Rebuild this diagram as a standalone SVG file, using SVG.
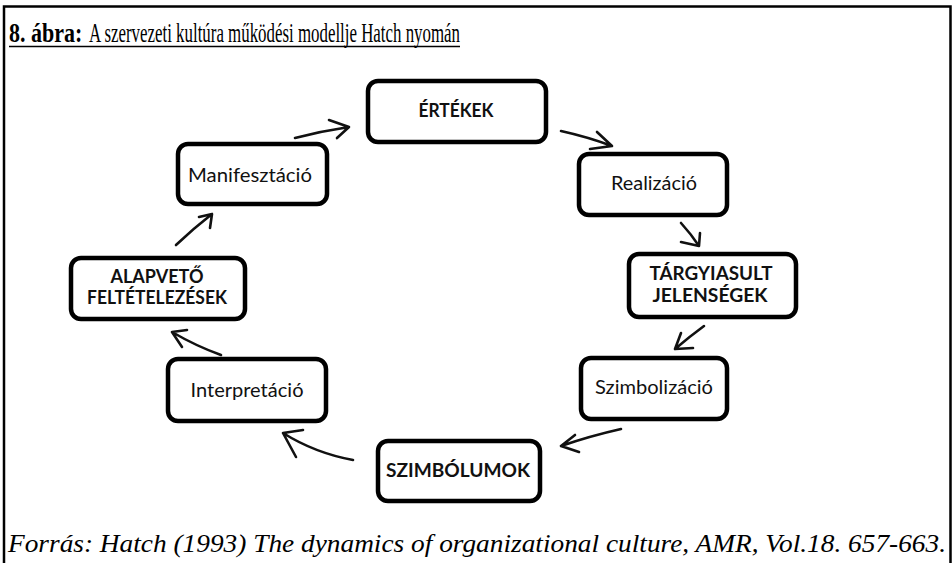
<svg xmlns="http://www.w3.org/2000/svg" width="952" height="563" viewBox="0 0 952 563">
<style>
.frame{stroke:#000;stroke-width:2.5;fill:none}
.box{fill:#fff;stroke:#000;stroke-width:4.5}
.lbl{font-family:Lato,"Open Sans",sans-serif;font-size:19.5px;fill:#111;text-anchor:middle}
.b{font-weight:bold}
.arr{fill:none;stroke:#111;stroke-width:2.6;stroke-linecap:round;stroke-linejoin:round}
.title{font-family:"Liberation Serif","Times New Roman",serif;font-size:27px;fill:#000}
.foot{font-family:"Liberation Serif","Times New Roman",serif;font-size:25px;font-style:italic;fill:#000}
</style>
<rect width="952" height="563" fill="#fff"/>
<g id="frame">
<path class="frame" d="M4,563 V6.5 H950.5 V563"/>
</g>
<g id="title">
<g transform="translate(9,42) scale(1,1.227)"><text x="0" y="0" font-family="Liberation Serif, Times New Roman, serif" font-size="22" font-weight="bold" fill="#000">8. ábra:</text></g>
<text class="title" x="89" y="42" textLength="371" lengthAdjust="spacingAndGlyphs">A szervezeti kultúra működési modellje Hatch nyomán</text>
<line x1="9" y1="46.5" x2="460" y2="46.5" stroke="#000" stroke-width="1.6"/>
</g>
<g id="connectors">
<path class="arr" d="M295,138 Q322,131 349,127 M329,120 L349,127 L337,138"/>
<path class="arr" d="M561,131 Q588,137 612,146 M597,132 L612,146 L590,149"/>
<path class="arr" d="M681,223 Q691,234 699,246 M700,233 L699,246 L681,242"/>
<path class="arr" d="M704,326 Q689,337 675,349 M681,333 L675,349 L693,348"/>
<path class="arr" d="M621,429 Q590,436 561,446 M575,435 L561,446 L579,452"/>
<path class="arr" d="M353,460 Q315,453 283,433 M303,430 L283,433 L296,457"/>
<path class="arr" d="M221,355 Q196,346 172,332 M187,330 L172,332 L182,347"/>
<path class="arr" d="M176,245 Q194,228 212,214 M199,217 L212,214 L210,228"/>
</g>
<g id="n-ertekek"><rect class="box" x="368" y="81" width="178" height="61" rx="10"/><text class="lbl b" x="456" y="117" textLength="75" lengthAdjust="spacingAndGlyphs">ÉRTÉKEK</text></g>
<g id="n-realizacio"><rect class="box" x="579" y="154" width="148" height="61" rx="10"/><text class="lbl" x="654" y="190" textLength="86" lengthAdjust="spacingAndGlyphs">Realizáció</text></g>
<g id="n-targyiasult"><rect class="box" x="629" y="254" width="167" height="63" rx="10"/><text class="lbl b" x="711" y="280" textLength="123" lengthAdjust="spacingAndGlyphs">TÁRGYIASULT</text><text class="lbl b" x="710" y="302" textLength="115" lengthAdjust="spacingAndGlyphs">JELENSÉGEK</text></g>
<g id="n-szimbolizacio"><rect class="box" x="581" y="358" width="146" height="61" rx="10"/><text class="lbl" x="654" y="394" textLength="118" lengthAdjust="spacingAndGlyphs">Szimbolizáció</text></g>
<g id="n-szimbolumok"><rect class="box" x="378" y="441" width="162" height="60" rx="10"/><text class="lbl b" x="458" y="477" textLength="144" lengthAdjust="spacingAndGlyphs">SZIMBÓLUMOK</text></g>
<g id="n-interpretacio"><rect class="box" x="168" y="359" width="158" height="62" rx="10"/><text class="lbl" x="247" y="397" textLength="113" lengthAdjust="spacingAndGlyphs">Interpretáció</text></g>
<g id="n-alapveto"><rect class="box" x="71" y="258" width="174" height="61" rx="10"/><text class="lbl b" x="157" y="283" textLength="93" lengthAdjust="spacingAndGlyphs">ALAPVETŐ</text><text class="lbl b" x="157" y="304" textLength="140" lengthAdjust="spacingAndGlyphs">FELTÉTELEZÉSEK</text></g>
<g id="n-manifesztacio"><rect class="box" x="178" y="144" width="149" height="60" rx="10"/><text class="lbl" x="250" y="182" textLength="124" lengthAdjust="spacingAndGlyphs">Manifesztáció</text></g>
<text class="foot" x="8" y="552" textLength="938" lengthAdjust="spacingAndGlyphs">Forrás: Hatch (1993) The dynamics of organizational culture, AMR, Vol.18. 657-663.</text>
</svg>
